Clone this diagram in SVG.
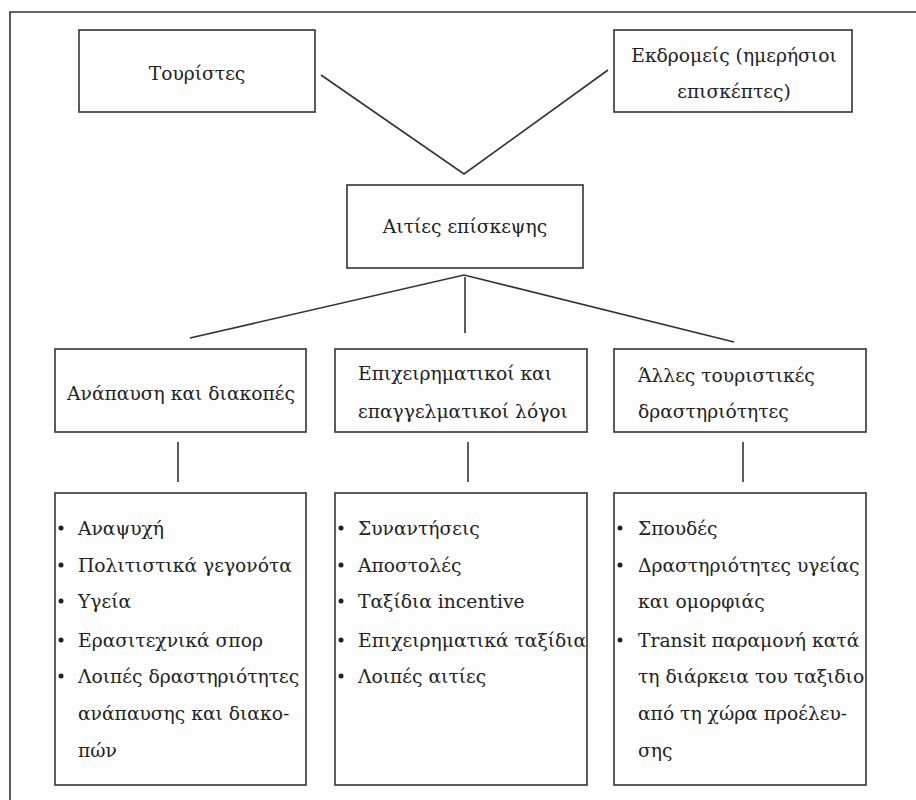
<svg xmlns="http://www.w3.org/2000/svg" width="916" height="800" viewBox="0 0 916 800">
<style>
.box{fill:none;stroke:#333;stroke-width:1.6}
.ln{fill:none;stroke:#333;stroke-width:1.6}
.t{font-family:'DejaVu Serif','Liberation Serif',serif;font-size:18.7px;fill:#222}
.c{text-anchor:middle}
.dot{fill:#222}
</style>
<defs>
<clipPath id="clipR"><rect x="614" y="493" width="251" height="292"/></clipPath>
</defs>
<rect x="0" y="0" width="916" height="800" fill="#fdfdfd"/>
<path class="ln" d="M10,800 V12 H916"/>
<g id="connectors">
<path class="ln" d="M321,75 L464,174 L608,70"/>
<path class="ln" d="M190,338 L464,275 L734,342"/>
<path class="ln" d="M465,277 V333"/>
<path class="ln" d="M178,442 V482"/>
<path class="ln" d="M468,442 V482"/>
<path class="ln" d="M743,442 V482"/>
</g>
<g class="t">
<g id="touristes">
<rect class="box" x="79" y="30" width="236" height="82"/>
<text class="c" x="197" y="80">Τουρίστες</text>
</g>
<g id="ekdromeis">
<rect class="box" x="614" y="30" width="238" height="82"/>
<text class="c" x="734" y="62">Εκδρομείς (ημερήσιοι</text>
<text class="c" x="734" y="98">επισκέπτες)</text>
</g>
<g id="aities">
<rect class="box" x="347" y="185" width="236" height="83"/>
<text class="c" x="465" y="233">Αιτίες επίσκεψης</text>
</g>
<g id="anapausi">
<rect class="box" x="55" y="349" width="251" height="83"/>
<text class="c" x="181" y="400">Ανάπαυση και διακοπές</text>
</g>
<g id="epixeirimatikoi">
<rect class="box" x="335" y="349" width="252" height="83"/>
<text x="358" y="380">Επιχειρηματικοί και</text>
<text x="358" y="418">επαγγελματικοί λόγοι</text>
</g>
<g id="alles">
<rect class="box" x="614" y="349" width="252" height="83"/>
<text x="638" y="382">Άλλες τουριστικές</text>
<text x="638" y="418">δραστηριότητες</text>
</g>
<g id="list-anapausi">
<rect class="box" x="55" y="493" width="251" height="292"/>
<circle class="dot" cx="61" cy="528" r="2.5"/><text x="78" y="535">Αναψυχή</text>
<circle class="dot" cx="61" cy="565" r="2.5"/><text x="78" y="572">Πολιτιστικά γεγονότα</text>
<circle class="dot" cx="61" cy="601" r="2.5"/><text x="78" y="608">Υγεία</text>
<circle class="dot" cx="61" cy="640" r="2.5"/><text x="78" y="647">Ερασιτεχνικά σπορ</text>
<circle class="dot" cx="61" cy="676" r="2.5"/><text x="78" y="683">Λοιπές δραστηριότητες</text>
<text x="78" y="720">ανάπαυσης και διακο-</text>
<text x="78" y="757">πών</text>
</g>
<g id="list-epixeirimatikoi">
<rect class="box" x="335" y="493" width="252" height="292"/>
<circle class="dot" cx="341" cy="528" r="2.5"/><text x="358" y="535">Συναντήσεις</text>
<circle class="dot" cx="341" cy="565" r="2.5"/><text x="358" y="572">Αποστολές</text>
<circle class="dot" cx="341" cy="601" r="2.5"/><text x="358" y="608">Ταξίδια incentive</text>
<circle class="dot" cx="341" cy="640" r="2.5"/><text x="358" y="647">Επιχειρηματικά ταξίδια</text>
<circle class="dot" cx="341" cy="676" r="2.5"/><text x="358" y="683">Λοιπές αιτίες</text>
</g>
<g id="list-alles">
<rect class="box" x="614" y="493" width="252" height="292"/>
<g clip-path="url(#clipR)">
<circle class="dot" cx="620" cy="528" r="2.5"/><text x="638" y="535">Σπουδές</text>
<circle class="dot" cx="620" cy="565" r="2.5"/><text x="638" y="572">Δραστηριότητες υγείας</text>
<text x="638" y="608">και ομορφιάς</text>
<circle class="dot" cx="620" cy="640" r="2.5"/><text x="638" y="647">Transit παραμονή κατά</text>
<text x="638" y="683">τη διάρκεια του ταξιδιού</text>
<text x="638" y="720">από τη χώρα προέλευ-</text>
<text x="638" y="757">σης</text>
</g>
</g>
</g>
</svg>
